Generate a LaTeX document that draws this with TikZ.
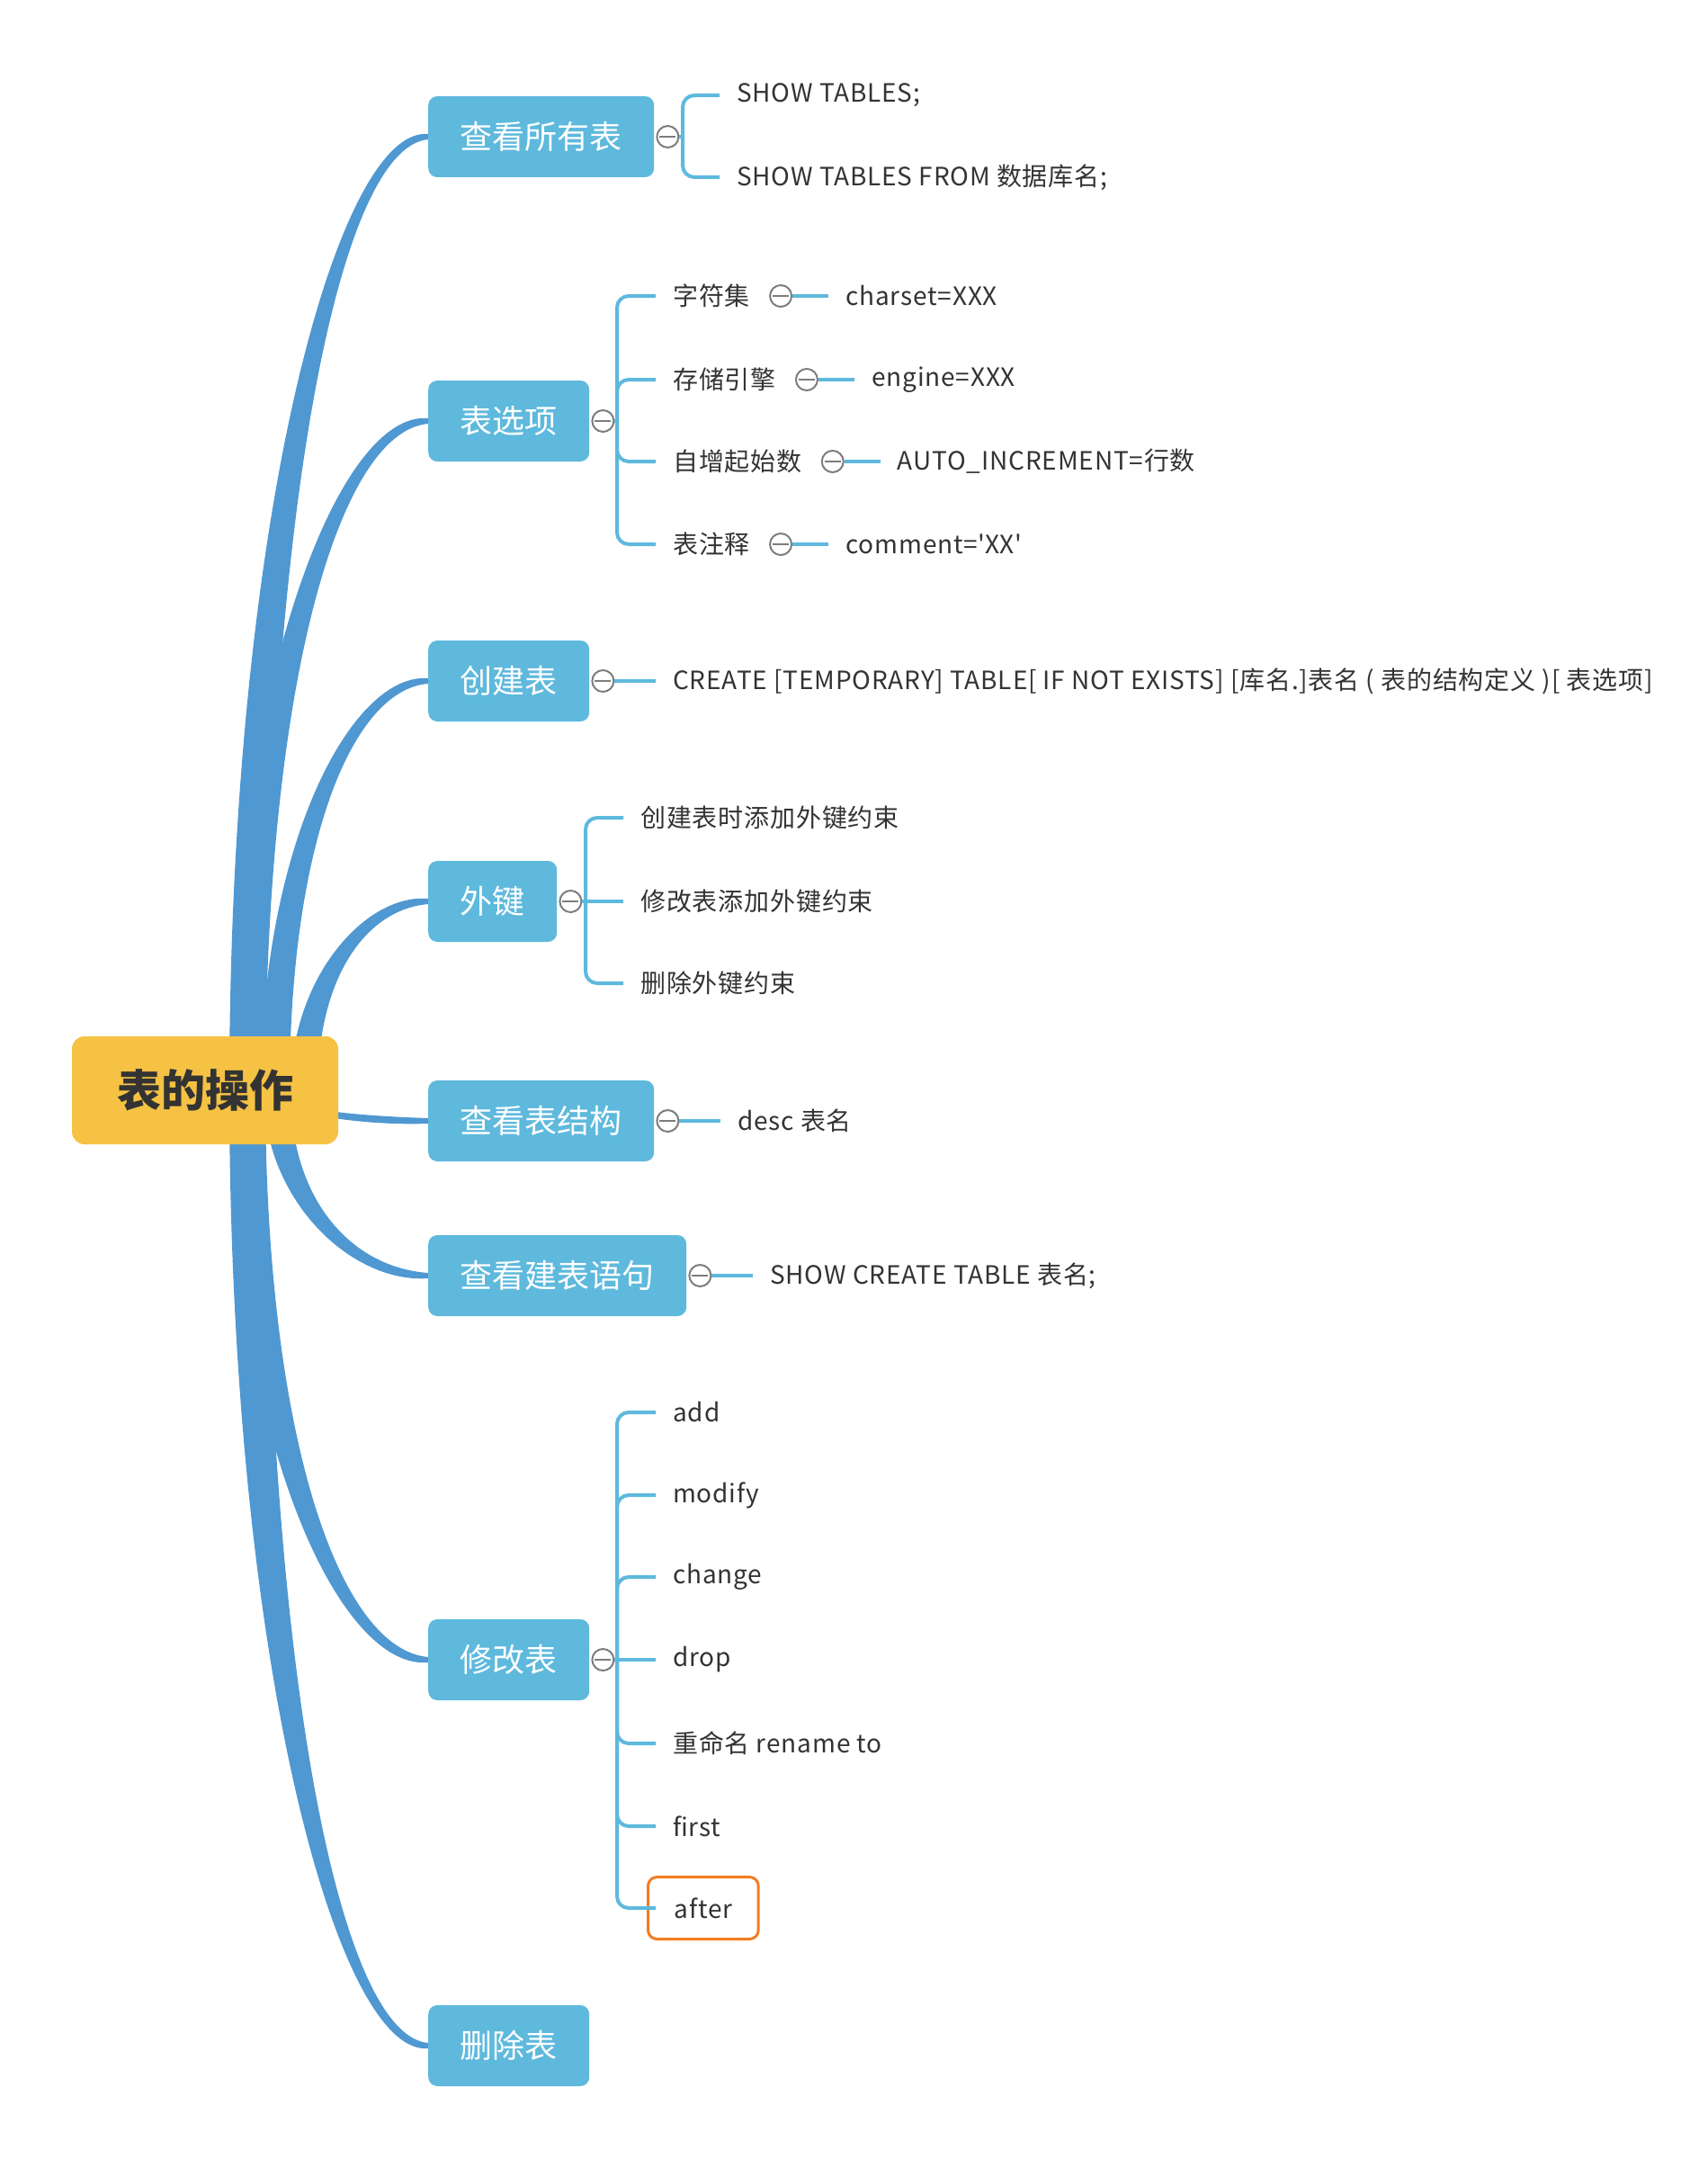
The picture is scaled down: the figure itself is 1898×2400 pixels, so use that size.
\documentclass[tikz,border=0pt]{standalone}
\usepackage{fontspec}
\setmainfont{Noto Sans CJK SC}
\usetikzlibrary{calc,backgrounds}
\definecolor{trunkblue}{RGB}{79,152,210}
\definecolor{boxblue}{RGB}{94,185,221}
\definecolor{rootyellow}{RGB}{245,194,67}
\definecolor{inkgray}{RGB}{51,51,51}
\definecolor{knobgray}{RGB}{125,125,125}
\definecolor{markorange}{RGB}{244,124,32}
\def\taper(#1:#2:#3)(#4){\fill[trunkblue] let \p1=($(#1.center)+(#2,0)$), \p2=(#4.west), \n1={#3/2}, \n2={ifthenelse(\y2>\y1,3,-3)}, \n5={ifthenelse(\y2>\y1,#3*0.3,-#3*0.3)}, \n3={\y2-\y1}, \n4={\x2-\x1} in (\x1-\n1,\y1) .. controls (\x1-\n1,\y1+0.6*\n3) and (\x1+0.5*\n4,\y2+\n5) .. (\x2,\y2+\n2) -- (\x2,\y2-\n2) .. controls (\x1+0.5*\n4,\y2-\n5) and (\x1+\n1,\y1+0.6*\n3) .. (\x1+\n1,\y1) -- cycle;}
\tikzset{
  rootbox/.style={fill=rootyellow, rounded corners=14pt, text=inkgray, font=\bfseries\fontsize{49}{58}\selectfont, minimum width=296pt, minimum height=120pt, inner sep=0pt},
  topic/.style={fill=boxblue, rounded corners=10pt, text=white, font=\fontsize{36}{43}\selectfont, minimum height=90pt, inner xsep=35.5pt, inner ysep=0pt, anchor=west},
  leaf/.style={text=inkgray, font=\addfontfeatures{LetterSpace=3}\fontsize{28}{34}\selectfont, inner xsep=19pt, inner ysep=0pt, anchor=west},
  marked/.style={leaf, draw=markorange, line width=3pt, rounded corners=10pt, inner xsep=29pt, minimum height=69pt},
  knob/.style={circle, draw=knobgray, line width=2pt, fill=white, minimum size=24pt, inner sep=0pt, anchor=west, xshift=2pt, path picture={\draw[knobgray, line width=2pt] ([xshift=-9pt]path picture bounding box.center) -- ([xshift=9pt]path picture bounding box.center);}},
  twig/.style={draw=boxblue, line width=4pt, rounded corners=13pt}
}
\begin{document}
\begin{tikzpicture}[x=1pt,y=-1pt]
	%%%%% START %%%%%
	\useasboundingbox (0,0) rectangle (1898,2400);
	
	\node[rootbox] (root) at (228,1212) {表的操作};
	
	\node[topic] (tables) at (476,152) {查看所有表};
	\node[topic] (options) at (476,468) {表选项};
	\node[topic] (create) at (476,757) {创建表};
	\node[topic] (fkey) at (476,1002) {外键};
	\node[topic] (desc) at (476,1246) {查看表结构};
	\node[topic] (showcreate) at (476,1418) {查看建表语句};
	\node[topic] (alter) at (476,1845) {修改表};
	\node[topic] (droptab) at (476,2274) {删除表};
	
	\begin{scope}[on background layer]
		\taper(root:47:40)(tables);
		\taper(root:47:40)(options);
		\taper(root:78:32)(create);
		\taper(root:110:30)(fkey);
		\taper(root:72:20)(desc);
		\taper(root:80:30)(showcreate);
		\taper(root:47:40)(alter);
		\taper(root:47:40)(droptab);
	\end{scope}
	
	% 查看所有表
	\node[knob] (ktables) at (tables.east) {};
	\coordinate (btables) at (759,152);
	\node[leaf] (showtab) at (800,106) {SHOW TABLES;};
	\node[leaf] (showfrom) at (800,197) {SHOW TABLES FROM 数据库名;};
	\draw[twig] (ktables.east) -- (btables);
	\draw[twig] (btables) |- (showtab.west);
	\draw[twig] (btables) |- (showfrom.west);
	
	% 表选项
	\node[knob] (koptions) at (options.east) {};
	\coordinate (boptions) at (686,468);
	\node[leaf] (charset) at (729,329) {字符集};
	\node[leaf] (engine) at (729,422) {存储引擎};
	\node[leaf] (autoinc) at (729,513) {自增起始数};
	\node[leaf] (comment) at (729,605) {表注释};
	\draw[twig] (koptions.east) -- (boptions);
	\draw[twig] (boptions) |- (charset.west);
	\draw[twig] (boptions) |- (engine.west);
	\draw[twig] (boptions) |- (autoinc.west);
	\draw[twig] (boptions) |- (comment.west);
	
	\node[knob] (kcharset) at (charset.east) {};
	\node[knob] (kengine) at (engine.east) {};
	\node[knob] (kautoinc) at (autoinc.east) {};
	\node[knob] (kcomment) at (comment.east) {};
	\node[leaf] (charsetval) at ([xshift=40pt]kcharset.east) {charset=XXX};
	\node[leaf] (engineval) at ([xshift=40pt]kengine.east) {engine=XXX};
	\node[leaf] (autoincval) at ([xshift=40pt]kautoinc.east) {AUTO\_INCREMENT=行数};
	\node[leaf] (commentval) at ([xshift=40pt]kcomment.east) {comment=\textquotesingle XX\textquotesingle};
	\draw[twig] (kcharset.east) -- (charsetval.west);
	\draw[twig] (kengine.east) -- (engineval.west);
	\draw[twig] (kautoinc.east) -- (autoincval.west);
	\draw[twig] (kcomment.east) -- (commentval.west);
	
	% 创建表
	\node[knob] (kcreate) at (create.east) {};
	\node[leaf] (createsql) at (729,757) {CREATE [TEMPORARY] TABLE[ IF NOT EXISTS] [库名.]表名 ( 表的结构定义 )[ 表选项]};
	\draw[twig] (kcreate.east) -- (createsql.west);
	
	% 外键
	\node[knob] (kfkey) at (fkey.east) {};
	\coordinate (bfkey) at (651,1002);
	\node[leaf] (fkadd) at (693,909) {创建表时添加外键约束};
	\node[leaf] (fkalter) at (693,1002) {修改表添加外键约束};
	\node[leaf] (fkdrop) at (693,1093) {删除外键约束};
	\draw[twig] (kfkey.east) -- (bfkey);
	\draw[twig] (bfkey) |- (fkadd.west);
	\draw[twig] (bfkey) -- (fkalter.west);
	\draw[twig] (bfkey) |- (fkdrop.west);
	
	% 查看表结构 / 查看建表语句
	\node[knob] (kdesc) at (desc.east) {};
	\node[leaf] (descsql) at (801,1246) {desc 表名};
	\draw[twig] (kdesc.east) -- (descsql.west);
	
	\node[knob] (kshow) at (showcreate.east) {};
	\node[leaf] (showsql) at (837,1418) {SHOW CREATE TABLE 表名;};
	\draw[twig] (kshow.east) -- (showsql.west);
	
	% 修改表
	\node[knob] (kalter) at (alter.east) {};
	\coordinate (balter) at (686,1845);
	\node[leaf] (add) at (729,1570) {add};
	\node[leaf] (modify) at (729,1662) {modify};
	\node[leaf] (change) at (729,1753) {change};
	\node[leaf] (dropcol) at (729,1845) {drop};
	\node[leaf] (rename) at (729,1938) {重命名 rename to};
	\node[leaf] (first) at (729,2030) {first};
	\node[marked] (after) at (719,2121) {after};
	\draw[twig] (kalter.east) -- (balter);
	\draw[twig] (balter) |- (add.west);
	\draw[twig] (balter) |- (modify.west);
	\draw[twig] (balter) |- (change.west);
	\draw[twig] (balter) -- (dropcol.west);
	\draw[twig] (balter) |- (rename.west);
	\draw[twig] (balter) |- (first.west);
	\draw[twig] (balter) |- ([xshift=10pt]after.west);
	
	%%%%% END %%%%%
\end{tikzpicture}
\end{document}
